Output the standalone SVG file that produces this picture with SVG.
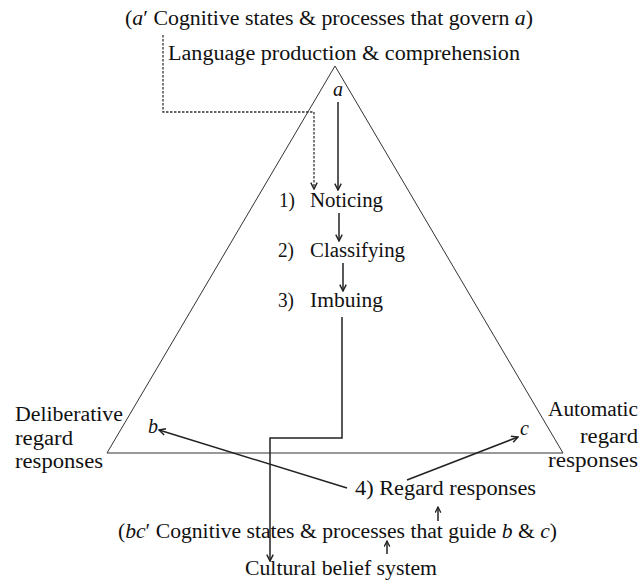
<svg xmlns="http://www.w3.org/2000/svg" width="641" height="582" viewBox="0 0 641 582">
<style>
text{font-family:"Liberation Serif","DejaVu Serif",serif;font-size:20px;fill:#111}
.i{font-style:italic}
.tri{fill:none;stroke:#333;stroke-width:1}
.c{fill:none;stroke:#222;stroke-width:1.5}
.d{fill:none;stroke:#333;stroke-width:1.3;stroke-dasharray:2.5 1.5}
</style>
<defs>
<marker id="ah" viewBox="0 0 10 10" refX="9" refY="5" markerWidth="8" markerHeight="8" markerUnits="userSpaceOnUse" orient="auto">
<path d="M1,1 L9,5 L1,9" fill="none" stroke="#222" stroke-width="1.8"/>
</marker>
<marker id="ahs" viewBox="0 0 10 10" refX="9" refY="5" markerWidth="7" markerHeight="7" markerUnits="userSpaceOnUse" orient="auto">
<path d="M1,1 L9,5 L1,9" fill="none" stroke="#222" stroke-width="1.8"/>
</marker>
</defs>
<g id="triangle"><polygon class="tri" points="335,66 107,453 563,453"/></g>
<g id="top-cog"><text x="125" y="25" textLength="408" lengthAdjust="spacingAndGlyphs">(<tspan class="i">a</tspan>′ Cognitive states &amp; processes that govern <tspan class="i">a</tspan>)</text></g>
<g id="top-lang"><text x="168" y="60" textLength="352" lengthAdjust="spacingAndGlyphs">Language production &amp; comprehension</text></g>
<g id="node-a"><text class="i" x="338" y="96" text-anchor="middle">a</text></g>
<g id="step1"><text x="279" y="207" textLength="16" lengthAdjust="spacingAndGlyphs">1)</text><text x="310" y="207" textLength="73" lengthAdjust="spacingAndGlyphs">Noticing</text></g>
<g id="step2"><text x="278" y="257" textLength="16" lengthAdjust="spacingAndGlyphs">2)</text><text x="310" y="257" textLength="95" lengthAdjust="spacingAndGlyphs">Classifying</text></g>
<g id="step3"><text x="278" y="307" textLength="16" lengthAdjust="spacingAndGlyphs">3)</text><text x="310" y="307" textLength="73" lengthAdjust="spacingAndGlyphs">Imbuing</text></g>
<g id="deliberative"><text x="15" y="421" textLength="108" lengthAdjust="spacingAndGlyphs">Deliberative</text><text x="15" y="445" textLength="58" lengthAdjust="spacingAndGlyphs">regard</text><text x="15" y="468" textLength="88" lengthAdjust="spacingAndGlyphs">responses</text></g>
<g id="automatic"><text x="548" y="416" textLength="90" lengthAdjust="spacingAndGlyphs">Automatic</text><text x="580" y="443" textLength="58" lengthAdjust="spacingAndGlyphs">regard</text><text x="548" y="467" textLength="90" lengthAdjust="spacingAndGlyphs">responses</text></g>
<g id="node-b"><text class="i" x="148" y="433">b</text></g>
<g id="node-c"><text class="i" x="520" y="435">c</text></g>
<g id="step4"><text x="355" y="495" textLength="181" lengthAdjust="spacingAndGlyphs">4) Regard responses</text></g>
<g id="bottom-cog"><text x="118" y="538" textLength="439" lengthAdjust="spacingAndGlyphs">(<tspan class="i">bc</tspan>′ Cognitive states &amp; processes that guide <tspan class="i">b</tspan> &amp; <tspan class="i">c</tspan>)</text></g>
<g id="culture"><text x="245" y="575" textLength="192" lengthAdjust="spacingAndGlyphs">Cultural belief system</text></g>
<g id="connectors">
<polyline class="d" points="163,35 163,112 314,112 314,189" marker-end="url(#ah)"/>
<line class="c" x1="338" y1="102" x2="338" y2="190" marker-end="url(#ah)"/>
<line class="c" x1="339" y1="213" x2="339" y2="241" marker-end="url(#ah)"/>
<line class="c" x1="343" y1="263" x2="343" y2="291" marker-end="url(#ah)"/>
<polyline class="c" points="342,317 342,438 270,438 270,561" marker-end="url(#ah)"/>
<line class="c" x1="347" y1="488" x2="159" y2="430" marker-end="url(#ah)"/>
<line class="c" x1="407" y1="480" x2="518" y2="437" marker-end="url(#ah)"/>
<line class="c" x1="438" y1="521" x2="438" y2="507" marker-end="url(#ahs)"/>
<line class="c" x1="387" y1="554" x2="387" y2="541" marker-end="url(#ahs)"/>
</g>
</svg>
